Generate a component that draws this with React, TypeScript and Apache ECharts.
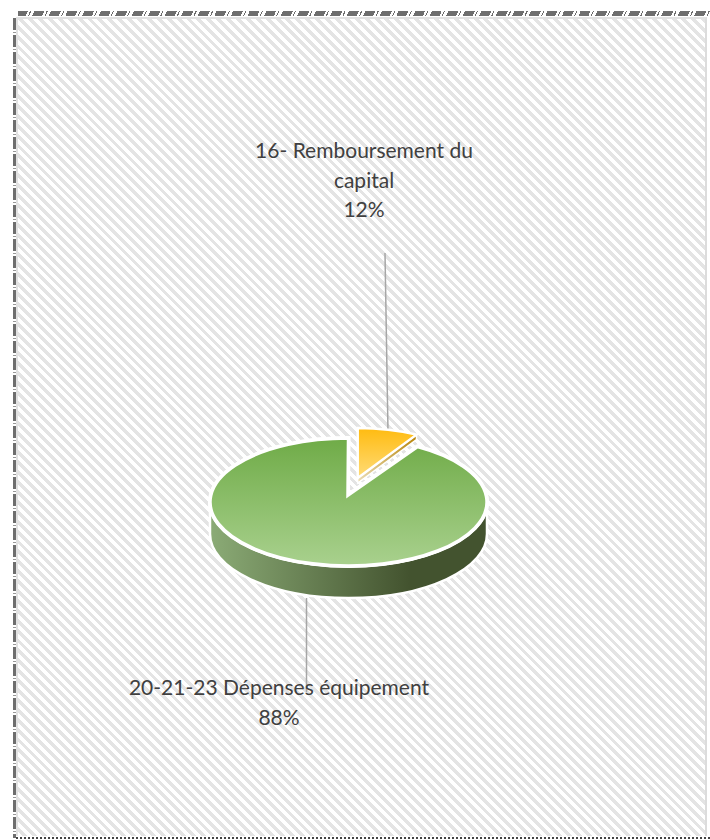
import React, { useEffect, useRef } from "react";
import * as echarts from "echarts";

const categories = ["20-21-23 Dépenses équipement", "16- Remboursement du\ncapital"];
const percents = [88, 12];
// The wedge is visibly narrower than its 12% label in the source 3D pie: shares as drawn there.
const drawnShares = [91.7, 8.3];

const FONT = "Lato, 'Open Sans', sans-serif";

function pt(cx: number, cy: number, rx: number, ry: number, turn: number) {
  const t = turn * Math.PI * 2;
  return [cx + rx * Math.sin(t), cy - ry * Math.cos(t)];
}
function sectorPath(ax: number, ay: number, cx: number, cy: number, rx: number, ry: number, t0: number, t1: number) {
  const a = pt(cx, cy, rx, ry, t0);
  const b = pt(cx, cy, rx, ry, t1);
  const large = t1 - t0 > 0.5 ? 1 : 0;
  return `M${ax} ${ay}L${a[0]} ${a[1]}A${rx} ${ry} 0 ${large} 1 ${b[0]} ${b[1]}Z`;
}

export default function App() {
  const ref = useRef<HTMLDivElement>(null);
  useEffect(() => {
    const chart = echarts.init(ref.current!, null, { renderer: "svg" });
    const cx = 348.5, cy = 502, rx = 138.5, ry = 64, depth = 32;
    const ax = 348, ay = 495;
    const ox = 357.7, oy = 478, orx = 118, ory = 50;
    const total = drawnShares[0] + drawnShares[1];
    const cut = drawnShares[1] / total;
    const line = (x1: number, y1: number, x2: number, y2: number) => ({
      type: "line",
      shape: { x1, y1, x2, y2 },
      style: { stroke: "#a6a6a6", lineWidth: 1.5 },
    });
    chart.setOption({
      animation: false,
      backgroundColor: "transparent",
      series: [
        {
          type: "custom",
          coordinateSystem: "none",
          silent: true,
          data: categories.map((name, i) => ({ name, value: [drawnShares[i], percents[i]] })),
          renderItem: (params: any, api: any) => {
            const share = api.value(0) / total;
            const pct = api.value(1);
            const name = categories[params.dataIndex];
            const textStyle = (x: number, y: number) => ({
              text: `${name}\n${pct}%`,
              x,
              y,
              align: "center",
              verticalAlign: "top",
              fontFamily: FONT,
              fontSize: 21,
              lineHeight: 29.5,
              fill: "#404040",
            });
            if (params.dataIndex === 0) {
              const tip = pt(ox, oy, orx, ory, cut);
              return {
                type: "group",
                children: [
                  line(385, 253, 388, 432),
                  line(306.5, 598, 306.5, 692),
                  {
                    type: "path",
                    shape: {
                      pathData: `M${cx - rx} ${cy}A${rx} ${ry} 0 0 0 ${cx + rx} ${cy}L${cx + rx} ${cy + depth}A${rx} ${ry} 0 0 1 ${cx - rx} ${cy + depth}Z`,
                    },
                    style: {
                      fill: {
                        type: "linear", x: 0, y: 0, x2: 1, y2: 0,
                        colorStops: [
                          { offset: 0, color: "#8bab76" },
                          { offset: 0.72, color: "#43532f" },
                          { offset: 1, color: "#43532f" },
                        ],
                      },
                      stroke: "#ffffff",
                      lineWidth: 2.5,
                    },
                  },
                  {
                    type: "path",
                    shape: { pathData: sectorPath(ax, ay, cx, cy, rx, ry, 1 - share, 1).replace(/Z$/, "Z") },
                    style: { fill: "#ffffff", stroke: "#ffffff", lineWidth: 4 },
                  },
                  {
                    type: "path",
                    shape: { pathData: sectorPath(ax, ay, cx, cy, rx, ry, 1 - share, 1) },
                    style: { fill: "#ffffff" },
                  },
                  {
                    type: "path",
                    shape: { pathData: sectorPath(ax, ay, cx, cy, rx, ry, cut, 1) },
                    style: {
                      fill: {
                        type: "linear", x: 0, y: 0, x2: 0, y2: 1,
                        colorStops: [
                          { offset: 0, color: "#6fab47" },
                          { offset: 1, color: "#a9d18e" },
                        ],
                      },
                      stroke: "#ffffff",
                      lineWidth: 3.5,
                      lineJoin: "miter",
                    },
                  },
                  { type: "text", style: textStyle(279, 672) },
                ],
              };
            }
            const tip = pt(ox, oy, orx, ory, share);
            return {
              type: "group",
              children: [
                {
                  type: "path",
                  shape: { pathData: `M${ox} ${oy}L${tip[0]} ${tip[1]}L${tip[0]} ${tip[1] + 5}L${ox} ${oy + 5}Z` },
                  style: {
                    fill: {
                      type: "linear", x: 0, y: 0, x2: 1, y2: 0,
                      colorStops: [
                        { offset: 0, color: "#eadcb4" },
                        { offset: 1, color: "#b8860b" },
                      ],
                    },
                    stroke: "#ffffff",
                    lineWidth: 1.5,
                  },
                },
                {
                  type: "path",
                  shape: { pathData: sectorPath(ox, oy, ox, oy, orx, ory, 0, share) },
                  style: {
                    fill: {
                      type: "linear", x: 0, y: 0, x2: 0, y2: 1,
                      colorStops: [
                        { offset: 0, color: "#ffbb10" },
                        { offset: 1, color: "#ffdc78" },
                      ],
                    },
                    stroke: "#ffffff",
                    lineWidth: 2.5,
                  },
                },
                { type: "text", style: textStyle(364, 135) },
              ],
            };
          },
        },
      ],
    });
    return () => chart.dispose();
  }, []);

  const dark = "#6e6e6e";
  return (
    <div style={{ position: "absolute", left: 0, top: 0, width: 710, height: 840, background: "#fff", overflow: "hidden" }}>
      <div
        style={{
          position: "absolute", left: 16, top: 17, width: 691, height: 819,
          background: "repeating-linear-gradient(45deg, #ffffff 0 3.5px, #e4e4e4 3.5px 7px)",
          borderTop: "2px solid #e2e2e2", borderLeft: "2px solid #e2e2e2", borderRight: "2px solid #dcdcdc",
          boxSizing: "border-box",
        }}
      />
      <div
        style={{
          position: "absolute", left: 18, top: 11, width: 692, height: 5,
          background: `repeating-linear-gradient(115deg, ${dark} 0 9px, #ffffff 9px 11px, ${dark} 11px 12px, #ffffff 12px 15px)`,
        }}
      />
      <div
        style={{
          position: "absolute", left: 13, top: 18, width: 3, height: 820,
          background: `repeating-linear-gradient(180deg, ${dark} 0 12px, #ffffff 12px 14px, #999 14px 15px, #ffffff 15px 17px)`,
        }}
      />
      <div
        style={{
          position: "absolute", left: 16, top: 837, width: 694, height: 2,
          background: `repeating-linear-gradient(90deg, #444 0 2px, #ffffff 2px 4px)`,
        }}
      />
      <div ref={ref} style={{ position: "absolute", left: 0, top: 0, width: 710, height: 840 }} />
    </div>
  );
}
